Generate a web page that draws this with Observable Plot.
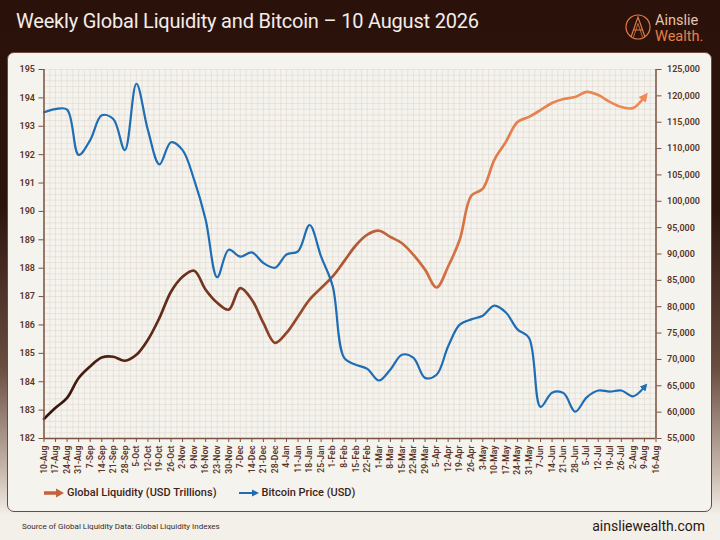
<!DOCTYPE html>
<html><head><meta charset="utf-8">
<script src="https://cdn.jsdelivr.net/npm/d3@7"></script>
<script src="https://cdn.jsdelivr.net/npm/@observablehq/plot@0.6"></script>
<style>
html,body{margin:0;padding:0}
body{width:720px;height:540px;position:relative;overflow:hidden;font-family:Roboto,"Noto Sans",sans-serif;
 background:linear-gradient(180deg,#2a120b 0%,#2c140d 38%,#6a4c40 68%,#cbbdb2 88%,#f3f0ea 95.5%,#f3f0ea 100%);}
#title{position:absolute;left:16px;top:9px;font-size:20px;color:#f3ece7;letter-spacing:-0.2px;white-space:nowrap}
#logo{position:absolute;left:624px;top:11px;width:92px;height:34px}
#panel{position:absolute;left:7px;top:52px;width:703px;height:458px;border:1.5px solid #6e4a3a;border-radius:7px;background:#f5f3ee;}
#chart{position:absolute;left:0;top:0}
#legend{position:absolute;left:35px;top:433px;display:flex;gap:21px;font-size:11px;font-weight:500;color:#3e2319;}
.item{display:flex;align-items:center;gap:2px}
#src{position:absolute;left:22px;top:522px;font-size:8px;color:#3a2a22}
#site{position:absolute;right:15px;top:518px;font-size:14px;color:#2a1710}
</style></head>
<body>
<div id="title">Weekly Global Liquidity and Bitcoin – 10 August 2026</div>
<svg id="logo" viewBox="0 0 92 34">
  <circle cx="14" cy="16" r="12" fill="none" stroke="#e07a48" stroke-width="1.2"/>
  <path d="M7,26 L14,6 L21,26 M10,19 L18,19" fill="none" stroke="#e07a48" stroke-width="1.2"/>
  <path d="M9.5,26 L14,12.5 L18.5,26" fill="none" stroke="#e07a48" stroke-width="0.8"/>
  <text x="31" y="14" font-size="14.5" fill="#e9c3ad" font-family="Roboto">Ainslie</text>
  <text x="31" y="30" font-size="14.5" fill="#e7804c" font-family="Roboto">Wealth.</text>
</svg>
<div id="panel">
  <div id="chart"></div>
  <div id="legend">
    <div class="item"><svg width="22" height="10"><path d="M1,5 H14" stroke="#c4623e" stroke-width="3.5"/><path d="M13,0.5 L21,5 L13,9.5 Z" fill="#c4623e"/></svg><span>Global Liquidity (USD Trillions)</span></div>
    <div class="item"><svg width="22" height="10"><path d="M1,5 H15" stroke="#1f6db4" stroke-width="2"/><path d="M14,1.5 L21,5 L14,8.5 Z" fill="#1f6db4"/></svg><span>Bitcoin Price (USD)</span></div>
  </div>
</div>
<div id="src">Source of Global Liquidity Data: Global Liquidity Indexes</div>
<div id="site">ainsliewealth.com</div>
<script>
const weeks = ["10-Aug","17-Aug","24-Aug","31-Aug","7-Sep","14-Sep","21-Sep","28-Sep","5-Oct","12-Oct","19-Oct","26-Oct","2-Nov","9-Nov","16-Nov","23-Nov","30-Nov","7-Dec","14-Dec","21-Dec","28-Dec","4-Jan","11-Jan","18-Jan","25-Jan","1-Feb","8-Feb","15-Feb","22-Feb","1-Mar","8-Mar","15-Mar","22-Mar","29-Mar","5-Apr","12-Apr","19-Apr","26-Apr","3-May","10-May","17-May","24-May","31-May","7-Jun","14-Jun","21-Jun","28-Jun","5-Jul","12-Jul","19-Jul","26-Jul","2-Aug","9-Aug","16-Aug"];
const liquidity = [182.69,183.08,183.43,184.13,184.54,184.85,184.88,184.74,184.95,185.48,186.25,187.17,187.70,187.91,187.24,186.78,186.54,187.30,186.89,186.07,185.37,185.72,186.30,186.89,187.30,187.71,188.25,188.80,189.18,189.32,189.10,188.88,188.47,187.95,187.32,188.06,189.00,190.55,190.80,191.82,192.45,193.15,193.33,193.57,193.82,193.96,194.03,194.21,194.10,193.86,193.68,193.64,194.03];
const bitcoin = [116900,117500,117400,108800,111600,116300,115600,109700,122300,113500,107000,111200,109700,104100,96500,85600,90800,89500,90300,88300,87400,89900,90500,95500,89500,83900,70300,69000,68200,66000,68100,70900,70300,66500,67100,72500,76600,77600,78300,80200,78900,75700,74100,61000,63700,63600,60100,62800,64100,63900,64100,63000,64800];
const liqTicks = d3.range(182, 196, 1);
const btcTicks = d3.range(55000, 125001, 5000);

const L0 = 182, L1 = 195, B0 = 55000, B1 = 125000;
const toLiq = b => L0 + (b - B0) / (B1 - B0) * (L1 - L0);
const toBtc = l => B0 + (l - L0) / (L1 - L0) * (B1 - B0);
const rows = liquidity.map((v, i) => ({i, liq: v, btc: bitcoin[i]}));
const axisColor = "#7a5241";
const textColor = "#5a3526";

const chart = Plot.plot({
  width: 703, height: 428,
  marginLeft: 35.5, marginRight: 55.5, marginTop: 16, marginBottom: 43,
  style: {fontFamily: "Roboto, sans-serif", fontSize: "9px", fontWeight: 600, background: "transparent", color: textColor},
  x: {domain: [0, weeks.length - 1]},
  y: {domain: [L0, L1]},
  marks: [
    Plot.gridX(d3.range(0, weeks.length - 0.99, 0.5), {stroke: "#dfd6cb", strokeOpacity: 0.7, strokeWidth: 0.8}),
    Plot.gridY(d3.range(L0, L1 + 0.001, 0.2), {stroke: "#dfd6cb", strokeOpacity: 0.7, strokeWidth: 0.8}),
    Plot.line(rows, {x: "i", y: "liq", stroke: "#e8834f", strokeWidth: 2.7, curve: "catmull-rom"}),
    Plot.line(rows, {x: "i", y: d => toLiq(d.btc), stroke: "#1f6db4", strokeWidth: 2.2, curve: "catmull-rom"}),
    Plot.ruleX([0, weeks.length - 1], {stroke: axisColor, strokeWidth: 1.5}),
    Plot.ruleY([L0], {stroke: axisColor, strokeWidth: 1.5}),
    Plot.axisY(liqTicks, {anchor: "left", tickSize: 5, tickPadding: 4, label: null, tickFormat: d => String(d), color: textColor, stroke: axisColor}),
    Plot.axisY(btcTicks.map(toLiq), {anchor: "right", tickSize: 5, tickPadding: 6, label: null, tickFormat: d => d3.format(",")(Math.round(toBtc(d))), color: textColor, stroke: axisColor}),
    Plot.axisX(d3.range(weeks.length), {tickSize: 4, tickPadding: 3, tickRotate: -90, label: null, tickFormat: i => weeks[i], fontSize: 8.6, color: textColor, stroke: axisColor})
  ]
});
document.getElementById("chart").appendChild(chart);

// gradient for the liquidity line and arrowheads at the ends
const svg = d3.select(chart);
const defs = svg.insert("defs", ":first-child");
const grad = defs.append("linearGradient").attr("id", "liqGrad").attr("x1", 0).attr("x2", 1).attr("y1", 0).attr("y2", 0);
[[0, "#35140b"], [0.18, "#5e2a17"], [0.38, "#8a4128"], [0.58, "#c4643d"], [0.78, "#e4804d"], [1, "#ee8a55"]]
  .forEach(([o, c]) => grad.append("stop").attr("offset", o).attr("stop-color", c));
function marker(id, color) {
  defs.append("marker").attr("id", id).attr("viewBox", "0 0 10 10").attr("refX", 4).attr("refY", 5)
    .attr("markerWidth", 3.4).attr("markerHeight", 3.4).attr("orient", "auto")
    .append("path").attr("d", "M0,0 L10,5 L0,10 Z").attr("fill", color);
}
marker("arrO", "#ee8a55");
marker("arrB", "#1f6db4");
const lines = chart.querySelectorAll('g[aria-label="line"] path');
lines[0].setAttribute("stroke", "url(#liqGrad)");
lines[0].setAttribute("marker-end", "url(#arrO)");
lines[1].setAttribute("marker-end", "url(#arrB)");
</script>
</body></html>
